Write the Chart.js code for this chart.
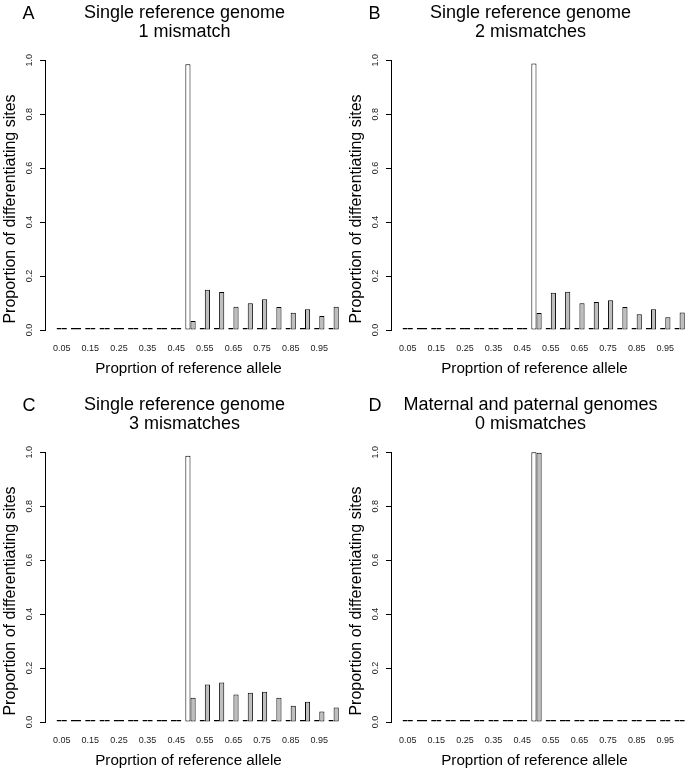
<!DOCTYPE html>
<html>
<head>
<meta charset="utf-8">
<script src="https://cdn.jsdelivr.net/npm/chart.js@4/dist/chart.umd.min.js"></script>
<style>
  body { margin: 0; background: #fff; }
  #figure { position: relative; width: 685px; height: 768px; overflow: hidden; background: #fff; }
  #figure canvas { position: absolute; }
</style>
</head>
<body>
<div id="figure">
  <canvas id="panel-a" width="369" height="376" style="left:0px;top:0px"></canvas>
  <canvas id="panel-b" width="369" height="376" style="left:346px;top:0px"></canvas>
  <canvas id="panel-c" width="369" height="376" style="left:0px;top:392px"></canvas>
  <canvas id="panel-d" width="369" height="376" style="left:346px;top:392px"></canvas>
</div>
<script>
// proportion of reference allele (one group of two bars per value)
const proportions = [0.05, 0.10, 0.15, 0.20, 0.25, 0.30, 0.35, 0.40, 0.45, 0.50,
                     0.55, 0.60, 0.65, 0.70, 0.75, 0.80, 0.85, 0.90, 0.95, 1.00];
const xTickValues = [0.05, 0.15, 0.25, 0.35, 0.45, 0.55, 0.65, 0.75, 0.85, 0.95];
const xTickLabels = ["0.05", "0.15", "0.25", "0.35", "0.45", "0.55", "0.65", "0.75", "0.85", "0.95"];
const yTickValues = [0, 0.2, 0.4, 0.6, 0.8, 1.0];
const yTickLabels = ["0.0", "0.2", "0.4", "0.6", "0.8", "1.0"];

// A: single reference genome, 1 mismatch
const whiteA = [0, 0, 0, 0, 0, 0, 0, 0, 0, 0.985, 0.002, 0.002, 0.001, 0.001, 0.001, 0.001, 0.001, 0.001, 0.001, 0.005];
const greyA  = [0, 0, 0, 0, 0, 0, 0, 0, 0, 0.033, 0.149, 0.141, 0.086, 0.099, 0.114, 0.085, 0.064, 0.077, 0.052, 0.086];
// B: single reference genome, 2 mismatches
const whiteB = [0, 0, 0, 0, 0, 0, 0, 0, 0, 0.988, 0.004, 0.004, 0.001, 0.001, 0.001, 0.001, 0.001, 0.001, 0.001, 0.003];
const greyB  = [0, 0, 0, 0, 0, 0, 0, 0, 0, 0.063, 0.138, 0.142, 0.099, 0.104, 0.110, 0.085, 0.058, 0.077, 0.047, 0.065];
// C: single reference genome, 3 mismatches
const whiteC = [0, 0, 0, 0, 0, 0, 0, 0, 0, 0.987, 0.005, 0.004, 0.001, 0.001, 0.001, 0.001, 0.001, 0.001, 0.001, 0.002];
const greyC  = [0, 0, 0, 0, 0, 0, 0, 0, 0, 0.090, 0.139, 0.146, 0.102, 0.108, 0.112, 0.090, 0.060, 0.075, 0.039, 0.054];
// D: maternal and paternal genomes, 0 mismatches
const whiteD = [0, 0, 0, 0, 0, 0, 0, 0, 0, 1.000, 0, 0, 0, 0, 0, 0, 0, 0, 0, 0];
const greyD  = [0, 0, 0, 0, 0, 0, 0, 0, 0, 0.998, 0, 0, 0, 0, 0, 0, 0, 0, 0, 0];

const xAxisTitle = "Proprtion of reference allele";
const yAxisTitle = "Proportion of differentiating sites";

const FONT = "'Liberation Sans', Arial, Helvetica, sans-serif";

// panel letter and axis titles (R puts them off the plot-region centre)
const panelTextPlugin = {
  id: "panelText",
  afterDraw(chart, args, opts) {
    const ctx = chart.ctx;
    ctx.save();
    ctx.fillStyle = "#000";
    ctx.textBaseline = "alphabetic";
    ctx.font = "18px " + FONT;
    ctx.textAlign = "left";
    ctx.fillText(opts.letter, 22.5, 18.5);
    ctx.font = "15.2px " + FONT;
    ctx.textAlign = "center";
    ctx.fillText(opts.xTitle, 188.5, 372.5);
    // y title, reading bottom to top
    ctx.translate(11, 209);
    ctx.rotate(-Math.PI / 2);
    ctx.font = "16px " + FONT;
    ctx.textBaseline = "middle";
    ctx.fillText(opts.yTitle, 0, 0);
    ctx.restore();
  }
};

document.addEventListener("DOMContentLoaded", () => {
  createPanel("panel-a", "A", ["Single reference genome", "1 mismatch"], whiteA, greyA);
  createPanel("panel-b", "B", ["Single reference genome", "2 mismatches"], whiteB, greyB);
  createPanel("panel-c", "C", ["Single reference genome", "3 mismatches"], whiteC, greyC);
  createPanel("panel-d", "D", ["Maternal and paternal genomes", "0 mismatches"], whiteD, greyD);
});

function createPanel(canvasId, letter, titleLines, white, grey) {
  const ctx = document.getElementById(canvasId).getContext("2d");
  return new Chart(ctx, {
    type: "bar",
    data: {
      labels: proportions,
      datasets: [
        {
          data: white,
          backgroundColor: "#ffffff",
          borderColor: "#000000",
          borderWidth: 1,
          borderSkipped: false,
          minBarLength: 2,
          clip: false,
        },
        {
          data: grey,
          backgroundColor: "#bebebe",
          borderColor: "#000000",
          borderWidth: 1,
          borderSkipped: false,
          minBarLength: 2,
          clip: false,
        },
      ],
    },
    options: {
      responsive: false,
      animation: false,
      layout: { padding: 0 },
      datasets: { bar: { categoryPercentage: 0.72, barPercentage: 1 } },
      plugins: {
        legend: { display: false },
        tooltip: { enabled: false },
        title: {
          display: true,
          text: titleLines,
          color: "#000",
          font: { family: FONT, size: 18, weight: "normal", lineHeight: 1.06 },
          padding: { top: 3, bottom: 19 },
        },
        panelText: { letter: letter, xTitle: xAxisTitle, yTitle: yAxisTitle },
      },
      scales: {
        x: {
          type: "linear",
          offset: false,
          min: -0.00835,
          max: 1.1237,
          grid: { display: false, drawTicks: false, offset: false },
          border: { display: false },
          afterBuildTicks: (scale) => {
            scale.ticks = xTickValues.map((v) => ({ value: v }));
          },
          afterFit: (scale) => {
            scale.height = 46;
          },
          ticks: {
            autoSkip: false,
            maxRotation: 0,
            padding: 13,
            color: "#222",
            font: { family: FONT, size: 9 },
            callback: (value, index) => xTickLabels[index],
          },
        },
        y: {
          min: 0,
          max: 1,
          grid: { display: true, drawOnChartArea: false, drawTicks: true, tickLength: 5, color: "#000" },
          border: { display: true, color: "#000", width: 1 },
          afterBuildTicks: (scale) => {
            scale.ticks = yTickValues.map((v) => ({ value: v }));
          },
          afterFit: (scale) => {
            scale.width = 45;
          },
          ticks: {
            minRotation: 90,
            maxRotation: 90,
            crossAlign: "center",
            padding: 4,
            color: "#222",
            font: { family: FONT, size: 9 },
            callback: (value, index) => yTickLabels[index],
          },
        },
      },
    },
    plugins: [panelTextPlugin],
  });
}
</script>
</body>
</html>
